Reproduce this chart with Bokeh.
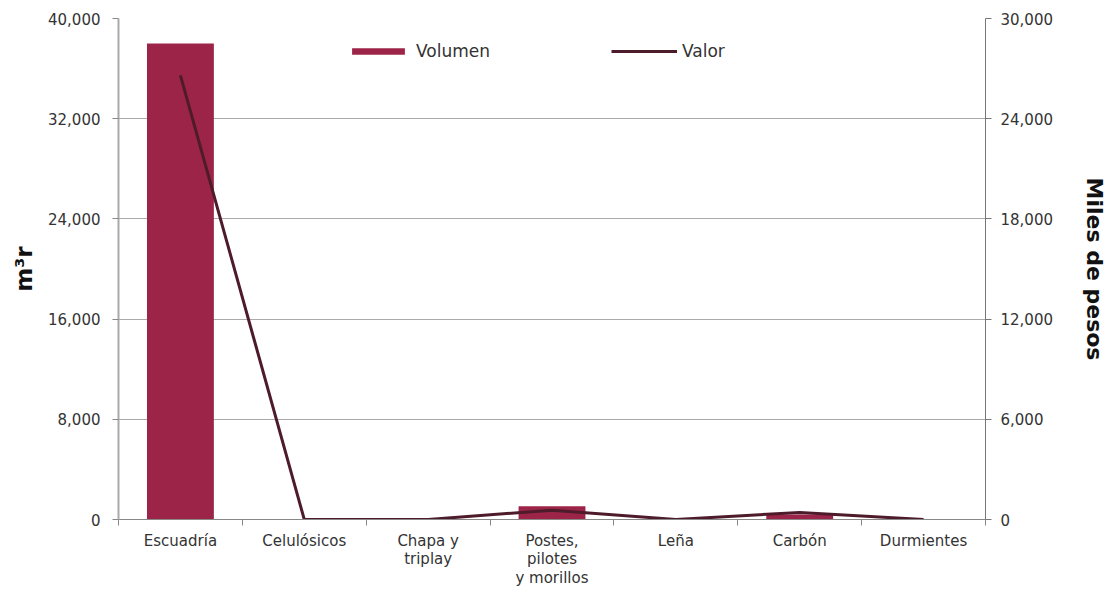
from bokeh.plotting import figure
from bokeh.models import (Range1d, LinearAxis, FixedTicker, NumeralTickFormatter,
                          Legend, LegendItem, ColumnDataSource)
from bokeh.embed import file_html
from bokeh.resources import INLINE

categories = ["Escuadría", "Celulósicos", "Chapa y\ntriplay", "Postes,\npilotes\ny morillos",
              "Leña", "Carbón", "Durmientes"]
volumen = [38000, 0, 0, 1050, 0, 400, 0]
valor = [26600, 0, 0, 560, 0, 420, 0]
left_ticks = [0, 8000, 16000, 24000, 32000, 40000]
right_ticks = [0, 6000, 12000, 18000, 24000, 30000]

xs = list(range(len(categories)))
src = ColumnDataSource(dict(x=xs, vol=volumen, val=valor))

FONT = "DejaVu Sans"
BAR = "#9D2449"
LINE = "#4E1B2B"
TXT = "#333333"

p = figure(width=1109, height=590, output_backend="svg", toolbar_location=None,
           x_range=Range1d(-0.5, len(categories) - 0.5), y_range=Range1d(0, 40000),
           min_border_left=118, min_border_right=123, min_border_top=18, min_border_bottom=71)
p.extra_y_ranges = {"valor": Range1d(0, 30000)}
p.outline_line_color = None

bars = p.vbar(x="x", top="vol", width=0.54, source=src, fill_color=BAR, line_color=None)
line = p.line(x="x", y="val", source=src, line_color=LINE, line_width=3, y_range_name="valor")

# x axis
xa = p.xaxis[0]
xa.ticker = FixedTicker(ticks=xs, minor_ticks=[i - 0.5 for i in range(len(categories) + 1)])
xa.major_label_overrides = {i: c for i, c in enumerate(categories)}
xa.major_tick_line_color = None
xa.major_tick_out = 6
xa.minor_tick_out = 6
xa.minor_tick_in = 0
xa.minor_tick_line_color = "#888888"
xa.axis_line_color = "#888888"
xa.major_label_text_font = FONT
xa.major_label_text_font_size = "15px"
xa.major_label_text_line_height = 1.05
xa.major_label_text_color = TXT
xa.major_label_standoff = 6
p.xgrid.visible = False

# left axis
ya = p.yaxis[0]
ya.ticker = FixedTicker(ticks=left_ticks)
ya.formatter = NumeralTickFormatter(format="0,0")
ya.axis_label = "m³r"
ya.axis_label_text_font = FONT
ya.axis_label_text_font_style = "bold"
ya.axis_label_text_font_size = "23px"
ya.axis_label_text_color = "#111111"
ya.axis_label_standoff = 8
ya.major_label_text_font = FONT
ya.major_label_text_font_size = "15px"
ya.major_label_text_color = TXT
ya.major_label_standoff = 12
ya.major_tick_out = 6
ya.major_tick_in = 0
ya.minor_tick_line_color = None
ya.axis_line_color = "#aaaaaa"
ya.axis_line_width = 2
ya.major_tick_line_color = "#888888"
p.ygrid.ticker = FixedTicker(ticks=left_ticks)
p.ygrid.grid_line_color = "#aaaaaa"
p.ygrid.grid_line_width = 1

# right axis
ra = LinearAxis(y_range_name="valor", ticker=FixedTicker(ticks=right_ticks),
                formatter=NumeralTickFormatter(format="0,0"))
ra.axis_label = "Miles de pesos"
ra.axis_label_text_font = FONT
ra.axis_label_text_font_style = "bold"
ra.axis_label_text_font_size = "22px"
ra.axis_label_text_color = "#111111"
ra.axis_label_standoff = 26
ra.major_label_text_font = FONT
ra.major_label_text_font_size = "15px"
ra.major_label_text_color = TXT
ra.major_label_standoff = 9
ra.major_tick_out = 6
ra.major_tick_in = 0
ra.minor_tick_line_color = None
ra.axis_line_color = "#777777"
ra.major_tick_line_color = "#777777"
p.add_layout(ra, "right")

legend = Legend(items=[LegendItem(label="Volumen", renderers=[bars]),
                       LegendItem(label="Valor", renderers=[line])],
                orientation="horizontal", location=(227, 458),
                border_line_color=None, background_fill_alpha=0,
                glyph_width=66, glyph_height=8, label_text_font=FONT,
                label_text_font_size="17px", label_text_color=TXT,
                spacing=121, padding=0, margin=0, label_standoff=5)
p.add_layout(legend, "center")

open("out.html", "w").write(file_html(p, INLINE))
